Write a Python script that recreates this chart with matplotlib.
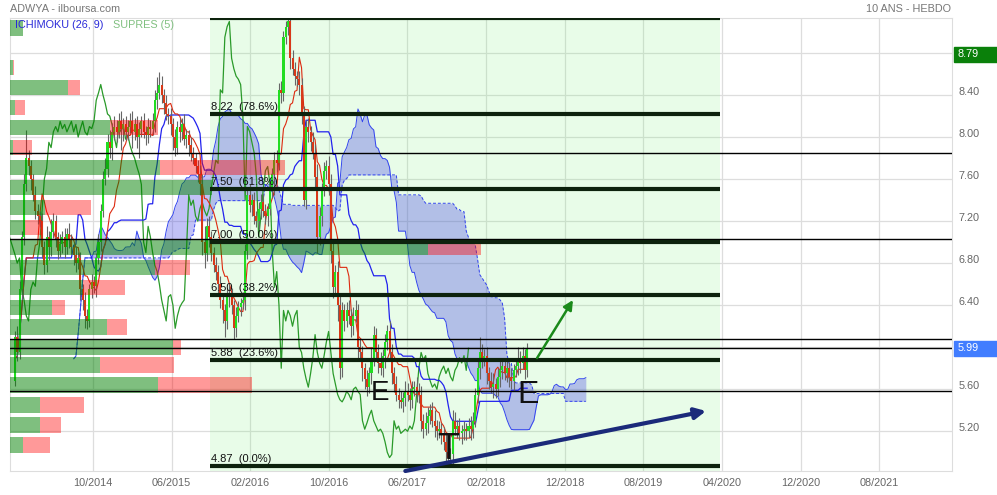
import numpy as np
import pandas as pd
import matplotlib
matplotlib.use("Agg")
import matplotlib.pyplot as plt
from matplotlib.patches import Rectangle
from matplotlib.transforms import blended_transform_factory

# weekly closes, open = previous close
closes = [
    6.10, 5.95, 6.55, 7.05, 7.55, 7.80, 7.72, 7.60, 7.45, 7.30,
    7.25, 7.20, 6.95, 6.78, 7.05, 6.95, 7.10, 7.20, 7.05, 6.92,
    6.98, 7.05, 6.95, 7.08, 7.02, 6.95, 6.88, 6.80, 6.85, 6.55,
    6.45, 6.30, 6.25, 6.55, 6.62, 6.58, 6.85, 7.00, 7.30, 7.60,
    7.70, 7.95, 7.90, 8.05, 8.10, 8.05, 8.15, 8.08, 8.12, 8.05,
    8.10, 8.15, 8.05, 8.12, 8.00, 8.08, 8.15, 8.05, 8.02, 8.10,
    8.08, 8.15, 8.35, 8.42, 8.50, 8.40, 8.32, 8.22, 8.20, 8.12,
    8.00, 7.90, 8.10, 8.05, 8.12, 7.98, 8.02, 7.92, 7.85, 7.80,
    7.72, 7.65, 7.55, 7.00, 6.90, 7.15, 7.05, 6.90, 6.78, 6.72,
    6.60, 6.45, 6.35, 6.25, 6.48, 6.50, 6.40, 6.18, 6.30, 6.38,
    6.42, 6.45, 6.92, 7.45, 7.35, 7.40, 7.25, 7.20, 7.32, 7.38,
    7.30, 7.25, 7.32, 7.50, 7.65, 7.78, 7.75, 8.45, 8.42, 8.95,
    9.05, 9.10, 8.75, 8.65, 8.58, 8.55, 8.50, 8.20, 7.40, 8.10,
    8.05, 7.95, 7.85, 7.62, 7.05, 7.25, 7.50, 7.68, 7.72, 7.55,
    6.92, 6.57, 6.72, 6.40, 5.80, 6.35, 6.25, 6.35, 6.30, 6.20,
    6.30, 6.35, 6.00, 5.95, 5.80, 5.70, 5.62, 5.75, 5.90, 6.12,
    5.95, 5.85, 5.80, 5.92, 6.05, 6.15, 5.95, 5.75, 5.65, 5.55,
    5.50, 5.48, 5.52, 5.58, 5.55, 5.50, 5.60, 5.62, 5.58, 5.55,
    5.30, 5.22, 5.28, 5.35, 5.40, 5.30, 5.25, 5.20, 5.22, 5.18,
    5.10, 5.00, 4.95, 4.98, 5.30, 5.22, 5.25, 5.18, 5.20, 5.22,
    5.20, 5.25, 5.22, 5.30, 5.55, 5.80, 5.95, 5.88, 5.92, 5.75,
    5.68, 5.62, 5.65, 5.60, 5.72, 5.78, 5.82, 5.75, 5.80, 5.72,
    5.68, 5.78, 5.82, 5.90, 5.85, 5.92, 5.78, 5.99,
]
first_open = 5.68
# wick lengths in cents above / below the body
wick_up = [
    5, 10, 8, 6, 10, 27, 8, 6, 5, 8,
    6, 5, 8, 6, 10, 6, 12, 8, 6, 5,
    10, 6, 8, 5, 10, 6, 5, 8, 6, 6,
    5, 8, 6, 5, 8, 6, 5, 8, 6, 8,
    10, 8, 12, 8, 10, 6, 8, 10, 6, 8,
    6, 8, 10, 6, 8, 6, 5, 8, 6, 8,
    6, 8, 10, 15, 12, 8, 6, 8, 6, 8,
    6, 8, 5, 8, 6, 10, 6, 5, 8, 6,
    5, 6, 8, 10, 15, 8, 10, 6, 5, 8,
    6, 8, 5, 6, 8, 10, 6, 5, 8, 6,
    5, 8, 6, 5, 10, 6, 8, 5, 6, 8,
    8, 6, 5, 8, 6, 8, 10, 6, 8, 6,
    5, 3, 10, 8, 6, 5, 8, 6, 10, 6,
    8, 6, 10, 8, 12, 8, 6, 8, 6, 10,
    10, 8, 6, 10, 12, 8, 6, 8, 10, 6,
    8, 10, 6, 8, 6, 5, 8, 6, 10, 8,
    6, 8, 10, 6, 8, 6, 10, 8, 6, 8,
    6, 8, 5, 10, 8, 6, 8, 6, 10, 8,
    8, 6, 10, 8, 6, 8, 10, 6, 8, 6,
    6, 8, 5, 6, 10, 8, 6, 8, 6, 8,
    6, 8, 10, 8, 6, 8, 15, 8, 6, 8,
    6, 8, 10, 6, 8, 10, 6, 8, 10, 6,
    8, 6, 8, 10, 6, 8, 6, 5,
]
wick_dn = [
    5, 8, 6, 10, 8, 6, 8, 10, 6, 8,
    8, 6, 10, 8, 6, 12, 8, 6, 10, 8,
    6, 8, 10, 6, 8, 6, 10, 8, 6, 10,
    10, 12, 8, 6, 8, 6, 10, 6, 8, 6,
    6, 8, 10, 12, 8, 10, 6, 20, 12, 8,
    8, 6, 15, 8, 10, 20, 8, 6, 10, 8,
    8, 6, 10, 8, 6, 8, 10, 6, 8, 10,
    12, 8, 6, 10, 8, 6, 8, 10, 8, 6,
    6, 8, 10, 12, 15, 8, 10, 8, 6, 8,
    10, 8, 12, 15, 8, 10, 8, 10, 8, 6,
    8, 6, 10, 8, 6, 10, 8, 6, 8, 10,
    6, 8, 10, 6, 8, 20, 8, 6, 10, 8,
    6, 8, 10, 6, 8, 6, 10, 8, 6, 8,
    10, 8, 6, 12, 15, 8, 10, 6, 8, 10,
    12, 10, 8, 15, 10, 8, 10, 6, 8, 10,
    8, 6, 10, 8, 12, 10, 8, 6, 10, 8,
    8, 10, 6, 8, 12, 8, 6, 10, 8, 6,
    8, 6, 10, 8, 6, 10, 8, 6, 10, 8,
    10, 8, 6, 10, 8, 6, 10, 8, 6, 10,
    8, 10, 8, 8, 10, 6, 8, 6, 10, 8,
    8, 6, 10, 8, 6, 8, 10, 8, 6, 10,
    8, 6, 10, 8, 6, 10, 8, 6, 8, 10,
    8, 10, 6, 8, 10, 6, 8, 6,
]

# SUPRES (5) volume profile: price level, buy and sell volume
supres_levels = [9.04, 8.85, 8.66, 8.47, 8.28, 8.09, 7.90, 7.71, 7.52, 7.33, 7.14,
                 6.95, 6.76, 6.57, 6.38, 6.19, 6.00, 5.83, 5.64, 5.45, 5.26, 5.07]
supres_buy = [13, 0, 3, 58, 5, 100, 3, 150, 202, 35, 15,
              418, 145, 73, 42, 97, 163, 90, 148, 30, 30, 13]
supres_sell = [0, 0, 1, 12, 10, 48, 19, 125, 0, 46, 17,
               53, 35, 42, 13, 20, 8, 74, 94, 44, 21, 27]

fib_low, fib_high = 4.87, 9.13
fib_pcts = [0.0, 23.6, 38.2, 50.0, 61.8, 78.6, 100.0]
support_lines = [7.85, 7.03, 6.08, 5.99, 5.58]
date_labels = ["10/2014", "06/2015", "02/2016", "10/2016", "06/2017", "02/2018",
               "12/2018", "08/2019", "04/2020", "12/2020", "08/2021"]
high_tag, last_tag = 8.79, 5.99

plt.rcParams["font.family"] = ["Liberation Sans", "DejaVu Sans"]

fig = plt.figure(figsize=(9.97, 4.95), dpi=100)
ax = fig.add_axes([10 / 997, 24 / 495, 942 / 997, 453.3 / 495])
xmin, xmax = -2.22, 415.3
ax.set_xlim(xmin, xmax)
ax.set_ylim(4.822, 9.136)

# grid
yticks = [5.2, 5.6, 6.0, 6.4, 6.8, 7.2, 7.6, 8.0, 8.4, 8.8]
xticks = [34.6 + 34.84 * i for i in range(len(date_labels))]
for yv in yticks:
    ax.axhline(yv, color="#dddddd", lw=0.9, zorder=0.5)
for xv in xticks:
    ax.axvline(xv, color="#dddddd", lw=0.9, zorder=0.5)

# fibonacci zone
fx0, fx1 = 86.4, 312.5
ax.axvspan(fx0, fx1, color=(0.45, 0.95, 0.45), alpha=0.16, lw=0, zorder=1)

# candles
n = len(closes)
x = np.arange(n)
c = np.array(closes)
o = np.r_[first_open, c[:-1]]
hi = np.maximum(o, c) + np.array(wick_up) / 100
lo = np.minimum(o, c) - np.array(wick_dn) / 100

# ichimoku (26, 9)
df = pd.DataFrame({"h": hi, "l": lo, "c": c})
tenkan = (df.h.rolling(9, min_periods=1).max() + df.l.rolling(9, min_periods=1).min()) / 2
kijun = (df.h.rolling(26, min_periods=1).max() + df.l.rolling(26, min_periods=1).min()) / 2
span_a = (tenkan + kijun) / 2
span_b = (df.h.rolling(52, min_periods=1).max() + df.l.rolling(52, min_periods=1).min()) / 2
xs = x + 26

ax.fill_between(xs, span_a, span_b, color=(0.25, 0.25, 0.9), alpha=0.32, lw=0, zorder=2)
ax.plot(xs, span_a, color="#3344ee", lw=0.7, zorder=2.5)
ax.plot(xs, span_b, color="#3344ee", lw=0.7, ls=(0, (3, 2)), zorder=2.5)
ax.plot(x - 26, c, color="#2a9a2a", lw=0.9, zorder=3)
ax.plot(x, kijun, color="#2222ee", lw=0.9, zorder=3)
ax.plot(x, tenkan, color="#dd2a10", lw=0.8, zorder=3)

up = c >= o
ax.vlines(x, lo, hi, color="#666666", lw=0.8, zorder=3.5)
body = np.maximum(np.abs(c - o), 0.012)
ax.bar(x[up], body[up], bottom=np.minimum(o, c)[up], width=0.9,
       color="#22dd22", lw=0, zorder=4)
ax.bar(x[~up], body[~up], bottom=np.minimum(o, c)[~up], width=0.9,
       color="#d83818", lw=0, zorder=4)

# volume profile bars
vscale = 1 / 2.256
buy = np.array(supres_buy) * vscale
sell = np.array(supres_sell) * vscale
ax.barh(supres_levels, buy, left=xmin, height=0.148, color="green", alpha=0.5, lw=0, zorder=5)
ax.barh(supres_levels, sell, left=xmin + buy, height=0.148, color="red", alpha=0.4, lw=0, zorder=5)

# support / resistance lines
for lv in support_lines:
    ax.axhline(lv, color="black", lw=1.0, zorder=6)

# fibonacci retracement
for p in fib_pcts:
    lv = fib_low + p / 100 * (fib_high - fib_low)
    ax.plot([fx0, fx1], [lv, lv], color="#0d220d", lw=3, solid_capstyle="butt", zorder=6)
    ax.text(fx0 + 0.3, lv + 0.02, f"{lv:.2f}  ({p:.1f}%)", fontsize=8, color="#111111",
            va="bottom", ha="left", zorder=7, clip_on=True)

# annotations
ax.annotate("", xy=(306.3, 5.393), xytext=(173.0, 4.822),
            arrowprops=dict(arrowstyle="-|>", lw=3, color="#1b2a7a", mutation_scale=16,
                            shrinkA=0, shrinkB=0), zorder=7)
ax.annotate("", xy=(247.3, 6.449), xytext=(231.4, 5.897),
            arrowprops=dict(arrowstyle="-|>", lw=1.8, color="#1a8a1a", mutation_scale=14,
                            shrinkA=0, shrinkB=0), zorder=7)
ax.text(161.8, 5.564, "E", fontsize=20, color="#111111", ha="center", va="center", zorder=7)
ax.text(191.9, 5.022, "T", fontsize=26, color="#111111", ha="center", va="center", zorder=7)
ax.text(227.4, 5.545, "E", fontsize=23, color="#111111", ha="center", va="center", zorder=7)

# axes styling (labels hidden behind the price tags)
ax.set_xticks(xticks)
ax.set_xticklabels(date_labels)
ax.yaxis.tick_right()
ax.set_yticks(yticks)
ax.set_yticklabels(["" if abs(v - high_tag) < 0.15 or abs(v - last_tag) < 0.15 else f"{v:.2f}"
                    for v in yticks])
for lbl in ax.get_yticklabels():
    lbl.set_verticalalignment("baseline")
ax.tick_params(length=0, labelsize=7.8, labelcolor="#666666")
ax.tick_params(axis="x", pad=5)
ax.tick_params(axis="y", pad=5)
for sp in ax.spines.values():
    sp.set_color("#dddddd")

# price tags on the right
tr = blended_transform_factory(ax.transAxes, ax.transData)
for val, col in [(high_tag, "#0a800a"), (last_tag, "#417dff")]:
    ax.add_patch(Rectangle((1.0021, val - 0.071), 0.06, 0.142, transform=tr,
                           color=col, clip_on=False, zorder=8))
    ax.text(1.0055, val, f"{val:.2f}", transform=tr, color="white", fontsize=7.8,
            va="center", ha="left", zorder=9, clip_on=False)

# header
fig.text(10 / 997, 1 - 9 / 495, "ADWYA - ilboursa.com", fontsize=7.8, color="#777777",
         va="center", ha="left")
fig.text(951 / 997, 1 - 9 / 495, "10 ANS - HEBDO", fontsize=7.8, color="#777777",
         va="center", ha="right")
fig.text(15 / 997, 1 - 25 / 495, "ICHIMOKU (26, 9)", fontsize=7.8, color="#2a2ad8",
         va="center", ha="left", zorder=10)
fig.text(113 / 997, 1 - 25 / 495, "SUPRES (5)", fontsize=7.8, color="#80c080",
         va="center", ha="left", zorder=10)

fig.savefig("out.png", dpi=100)
